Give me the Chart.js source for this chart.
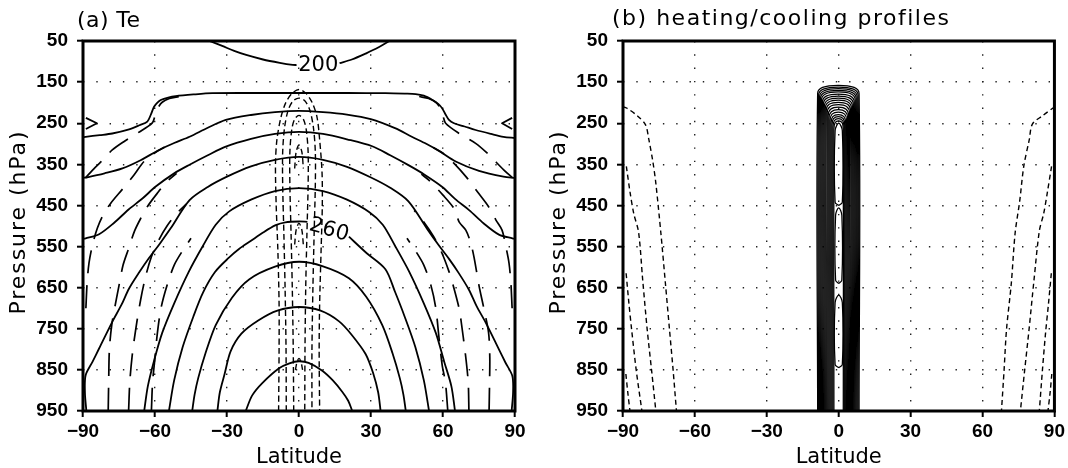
<!DOCTYPE html>
<html><head><meta charset="utf-8">
<script src="https://cdn.jsdelivr.net/npm/chart.js@4.4.1/dist/chart.umd.min.js"></script>
<style>
html,body{margin:0;padding:0;background:#fff;}
#wrap{position:relative;width:1068px;height:468px;background:#fff;}
canvas{position:absolute;top:0;}
</style></head>
<body><div id="wrap">
<canvas id="ca" width="534" height="468" style="left:0px"></canvas>
<canvas id="cb" width="534" height="468" style="left:534px"></canvas>
</div>
<script>
// ---------- axes ----------
const latTicks = [-90,-60,-30,0,30,60,90];
const latLabels = ['\u221290','\u221260','\u221230','0','30','60','90'];
const presTicks = [50,150,250,350,450,550,650,750,850,950];
const presLabels = ['50','150','250','350','450','550','650','750','850','950'];

// ---------- panel (a) Te : solid contours [lat, hPa] (null = label gap) ----------
const te200 = [[-37.3,50],[-32,62],[-27,74],[-22,84],[-15,95],[-8,103],[-2.6,108],[-1,108.5],null,[16.9,104],[22,95],[28,80],[33,66],[37.7,50]];
const te210 = [[-90,284],[-88.9,283],[-83,279],[-77.8,275],[-70.8,265],[-66.5,255],[-63.2,246],[-61.8,230],[-60.4,210],[-59,200],[-57.6,193.5],[-54.5,187.5],[-51.4,184],[-44,180],[-36.1,177],[-20,176.5],[0,176.5],[20,176.5],[36,177],[44,178],[48.6,179],[52,183],[55.6,193.5],[58,203],[59.7,214],[61,228],[62.5,242],[64.6,250],[69,258],[73.6,266.5],[80,276],[85.2,283],[90,286]];
const te220 = [[-90,383],[-88.2,381.5],[-81,372],[-73.6,360],[-66,340],[-58.3,315],[-52,298],[-45.6,283],[-38,261],[-30.5,242],[-20,230],[-10,223],[0,220],[10,223],[20,229],[29.9,240],[40,262],[47,283],[53,300],[58.5,318],[65.3,343],[75,366],[85.2,380],[90,383]];
const te230 = [[-90,531],[-88.9,530],[-83.3,520],[-77,492],[-71,460],[-65,432],[-59.7,404],[-52,372],[-45.6,351],[-38,328],[-30.5,307],[-20,288],[-10,276],[0,271],[10,276],[20,289],[30.5,306],[38,328],[45.6,352],[52,374],[59.7,405],[65,434],[71,462],[77,494],[83.3,521],[88.9,530],[90,531]];
const te240 = [[-88.6,950],[-89.2,905],[-88.9,863],[-86,830],[-83.3,798],[-77.8,733],[-74,692],[-70.8,652],[-66.5,612],[-62.5,578],[-58,543],[-53.4,505],[-45.6,437],[-38,405],[-30,380],[-20,355],[-10,339],[0,332],[10,339],[20,356],[30,382],[38,407],[45.6,440],[53.4,507],[58,545],[62.5,580],[66.5,614],[70.8,655],[74,695],[77.8,735],[83.3,800],[86,832],[88.9,865],[89.2,905],[88.6,950]];
const te250 = [[-64.5,950],[-63,890],[-60.5,830],[-57,760],[-52,688],[-46,612],[-40,548],[-34.7,497],[-29.2,465],[-20,436],[-10,415],[0,408],[10,415],[20,436],[29.2,466],[34.9,497],[40,548],[46,612],[52,688],[57,760],[60.5,830],[63.5,890],[65,950]];
const te260 = [[-54.2,950],[-52,875],[-48.5,795],[-44,720],[-40,662],[-35,612],[-29.2,577],[-25,556],[-20,536],[-15,516],[-9.7,498],[-5.7,491],[0,489],[3.5,490],null,[20.8,526],[28,565],[36,605],[40,660],[44,720],[48.5,795],[52,875],[54.2,950]];
const te270 = [[-44.5,950],[-43.5,910],[-42,870],[-39,810],[-34.7,741],[-28,675],[-20.8,630],[-10,599],[0,587],[10,598],[20.8,627],[28,672],[34.7,741],[39,810],[42,870],[43.5,910],[44.5,950]];
const te280 = [[-34,950],[-33,905],[-31,860],[-28.5,805],[-24,762],[-17,730],[-9,706],[0,697],[9,706],[16.7,732],[22,765],[27.8,812],[31,860],[33,905],[34,950]];
const te290 = [[-22.2,950],[-19.5,912],[-15.3,882],[-8.3,846],[-4,834],[0,829],[4,833],[9.7,852],[14,875],[18,903],[20.5,925],[22.2,950]];
const teEdgeW = [[-88.8,237],[-84.2,250],[-88.8,264]];
const teEdgeE = [[88.8,237],[84.6,250],[88.8,264]];

// short-dashed tongues near the equator
const teTongue1 = [[-8.5,950],[-8.3,800],[-8.3,690],[-8.8,560],[-9.5,450],[-9.8,350],[-9.2,290],[-7.5,235],[-5.5,200],[-3,178],[0,168],[3,178],[5.5,200],[7.5,235],[8.6,290],[9.6,370],[9.7,453],[9.2,560],[8.6,690],[8.4,800],[8.6,950]];
const teTongue2 = [[-5.3,950],[-5.4,800],[-5.8,650],[-6.3,520],[-6.8,400],[-6.8,320],[-6,260],[-4.5,218],[-2.5,196],[0,189],[2.5,196],[4.5,218],[6,260],[6.8,320],[6.8,400],[6.3,520],[5.8,650],[5.4,800],[5.4,950]];
const teTongue3 = [[-2.2,950],[-2.4,800],[-2.8,650],[-3.3,520],[-3.8,400],[-3.8,320],[-3,265],[-1.8,240],[0,231],[1.8,240],[3,265],[3.8,320],[3.8,400],[3.3,520],[2.8,650],[2.5,800],[2.4,950]];
const teCap1 = [[-1.8,360],[-1.2,320],[0,303],[1.2,320],[1.8,360]];
const teCap2 = [[-1.8,545],[-1.2,510],[0,493],[1.2,510],[1.8,545]];
const teCap3 = [[-1.5,850],[-0.8,830],[0,822],[0.8,830],[1.5,850]];

// long-dashed contours
const teLong1W = [[-89,383],[-85,358],[-81,335],[-77.8,315],[-73,295],[-67,273],[-61.2,250],[-60,232],[-58.8,213],[-57,199],[-54,190],[-50,185]];
const teLong1E = [[89,383],[85.4,364],[81,338],[78.5,323],[73.6,299],[67,276],[61.1,250],[60,232],[58.8,213],[57,199],[54,190],[50,185]];
const teLong2W = [[-88.8,700],[-88.3,640],[-87.5,590],[-86,545],[-84,505],[-81.5,472],[-78.5,445],[-73.5,410],[-68.75,376],[-64.6,343],[-60,322],[-56,308]];
const teLong2E = [[88.8,700],[88.3,640],[87.5,590],[86,545],[84.6,510],[82,485],[79,453],[74.5,418],[70,383],[65,350],[60,323],[56,309]];
const teLong3W = [[-79.5,950],[-79.3,880],[-79,800],[-78,740],[-76.5,690],[-75,645],[-73.3,595],[-71,555],[-68.5,512],[-66,482],[-63.2,453],[-59,420],[-55,392],[-51,372]];
const teLong3E = [[79.2,950],[79.4,880],[79.5,820],[79,760],[77,700],[75,645],[73,578],[71.5,540],[69.5,510],[66.7,490],[65,461],[60,425],[54,388],[51,374]];
const teLong4W = [[-71,950],[-70.5,880],[-69.5,815],[-68,750],[-66,680],[-64,625],[-61.5,575],[-58.5,535],[-55,500],[-51,470],[-47,447]];
const teLong4E = [[70.8,950],[70.5,880],[69.4,815],[67.4,725],[66.7,700],[64.5,650],[62.5,611],[59.5,565],[56,525],[52,490],[48,462]];
const teLong5W = [[-61.5,950],[-61,880],[-60,820],[-59,760],[-57.5,700],[-55,645],[-52,595],[-48.5,560],[-45,530]];
const teLong5E = [[62,950],[61,880],[59.7,840],[58.3,770],[57,700],[55,645],[52,595],[48.5,560],[45,530]];

// contour labels of panel (a)
const teLabelText = ['200','260'];
const teLabelLat = [8.0, 12.5];
const teLabelPres = [108.5, 510];

// ---------- panel (b) heating/cooling : dashed cooling contours ----------
const hcDash1W = [[-90,210],[-88.5,213],[-84,232],[-80.6,254],[-79.2,290],[-77.5,345],[-76.3,396],[-74.2,517],[-72.3,640],[-70.6,752],[-69.1,850],[-67.7,950]];
const hcDash2W = [[-88.6,355],[-87,420],[-85.5,470],[-83.5,515],[-81.8,630],[-79.9,752],[-78,855],[-76.3,950]];
const hcDash3W = [[-88.7,615],[-87.5,690],[-86.4,752],[-84.5,850],[-82.1,950]];
const hcDash4W = [[-88.8,860],[-88,905],[-87.1,950]];
const hcDash1E = [[90,210],[89.4,213],[85,232],[80.8,252],[79.5,290],[77.2,355],[75.5,440],[73.6,517],[72,640],[70,752],[69,850],[67.9,950]];
const hcDash2E = [[88.8,355],[87,420],[85.5,470],[83.7,512],[81.5,630],[79.4,752],[77.5,855],[75.8,950]];
const hcDash3E = [[88.7,615],[87.5,690],[86.3,760],[85,850],[83.7,950]];
const hcDash4E = [[88.9,860],[88.2,905],[87.3,950]];
// heating columns: left edge, right edge (deg lat), top (hPa)
const hcColLeft  = [-8.8,-8.4,-8.0,-7.6,-7.2,-6.8,-6.4,-6.0,-5.6,-5.2,-4.8,-4.4,-4.0,-3.6,-3.2,-2.8,-2.4,-2.0];
const hcColRight = [8.5,8.1,7.7,7.3,6.9,6.5,6.1,5.7,5.3,4.9,4.5,4.1,3.7,3.3,2.9,2.5,2.2,1.9];
const hcColTop   = [158,162,166,170,174,179,184,189,194,199,205,211,217,223,229,234,239,244];
// inner closed maxima
const hcPocketLeft   = [-1.5,-1.3,-1.5];
const hcPocketRight  = [1.5,1.3,1.5];
const hcPocketTop    = [250,456,668];
const hcPocketBottom = [450,640,845];

// ---------- drawing ----------
const STY = {
  solid:{w:1.8,d:[],t:0.3},
  edge:{w:1.8,d:[],t:0},
  short:{w:1.4,d:[6,3.5],t:0.3},
  long:{w:1.7,d:[23,12],t:0.3},
  bdash:{w:1.4,d:[5,3.5],t:0.3},
  col:{w:1.25,d:[],t:0.35}
};
function colShape(L,R,T){const w=R-L,m=(L+R)/2;return [[L,950],[L,T+20],[L+0.12*w,T+5],[m,T],[R-0.12*w,T+5],[R,T+20],[R,950]];}
function pocketShape(L,R,T,B){const m=(L+R)/2;return [[m,B],[L,B-8],[L,T+18],[m,T],[R,T+18],[R,B-8],[m,B]];}
function toXY(p){return p?{x:p[0],y:p[1]}:{x:null,y:null};}
function ds(pts,style){const s=STY[style];return {data:pts.map(toXY),showLine:true,pointRadius:0,pointHoverRadius:0,borderColor:'#000',backgroundColor:'#000',fill:false,spanGaps:false,borderWidth:s.w,borderDash:s.d,tension:s.t,borderCapStyle:'butt',borderJoinStyle:'round'};}

const setsA = [];
[te200,te210,te220,te230,te240,te250,te260,te270,te280,te290].forEach(a=>setsA.push(ds(a,'solid')));
[teEdgeW,teEdgeE].forEach(a=>setsA.push(ds(a,'edge')));
[teTongue1,teTongue2,teTongue3,teCap1,teCap2,teCap3].forEach(a=>setsA.push(ds(a,'short')));
[teLong1W,teLong1E,teLong2W,teLong2E,teLong3W,teLong3E,teLong4W,teLong4E,teLong5W,teLong5E].forEach(a=>setsA.push(ds(a,'long')));

const setsB = [];
[hcDash1W,hcDash2W,hcDash3W,hcDash4W,hcDash1E,hcDash2E,hcDash3E,hcDash4E].forEach(a=>setsB.push(ds(a,'bdash')));
hcColTop.forEach((T,i)=>setsB.push(ds(colShape(hcColLeft[i],hcColRight[i],T),'col')));
hcPocketTop.forEach((T,i)=>setsB.push(ds(pocketShape(hcPocketLeft[i],hcPocketRight[i],T,hcPocketBottom[i]),'col')));

const tickFont = {family:"'Liberation Sans', Arial, sans-serif", size:19, weight:'bold'};
const TXT = "'DejaVu Sans', sans-serif";

function spacedText(ctx,text,x,y,target,align){
  const w0 = ctx.measureText(text).width;
  const n = text.length;
  if ('letterSpacing' in ctx){
    const sp = (target-w0)/(n-1);
    ctx.letterSpacing = sp+'px';
    ctx.textAlign='left';
    const vis = w0 + sp*(n-1);
    ctx.fillText(text, align==='center'? x-vis/2 : x, y);
    ctx.letterSpacing='0px';
  } else {
    ctx.save(); ctx.translate(align==='center'? x-target/2 : x, y); ctx.scale(target/w0,1);
    ctx.textAlign='left'; ctx.fillText(text,0,0); ctx.restore();
  }
}

function makeChart(id, sets, cfg){
  const gridColor = (lo,hi)=> c => (c.tick && (c.tick.value===lo || c.tick.value===hi)) ? 'rgba(0,0,0,0)' : '#222';
  const plug = {
    id:'deco'+id,
    afterDatasetsDraw(chart){
      const ctx=chart.ctx,a=chart.chartArea;
      ctx.save(); ctx.strokeStyle='#000'; ctx.lineWidth=3; ctx.setLineDash([]);
      ctx.strokeRect(a.left,a.top,a.right-a.left,a.bottom-a.top); ctx.restore();
    },
    afterDraw(chart){
      const ctx=chart.ctx,a=chart.chartArea,xs=chart.scales.x,ys=chart.scales.y;
      ctx.save(); ctx.fillStyle='#000'; ctx.textBaseline='alphabetic';
      ctx.font='22px '+TXT;
      spacedText(ctx,cfg.title,cfg.titleX,cfg.titleY,cfg.titleW,'left');
      ctx.font='21px '+TXT;
      spacedText(ctx,'Latitude',(a.left+a.right)/2,463,86,'center');
      ctx.save(); ctx.translate(cfg.yTitleX,223); ctx.rotate(-Math.PI/2);
      ctx.font='22px '+TXT;
      spacedText(ctx,'Pressure (hPa)',0,0,183,'center');
      ctx.restore();
      (cfg.labels||[]).forEach(L=>{
        ctx.save();
        ctx.translate(xs.getPixelForValue(L.lat), ys.getPixelForValue(L.p));
        ctx.rotate(L.rot);
        ctx.font='21px '+TXT; ctx.textAlign='center'; ctx.textBaseline='middle';
        ctx.fillText(L.text,0,0);
        ctx.restore();
      });
      ctx.restore();
    }
  };
  return new Chart(document.getElementById(id),{
    type:'scatter',
    data:{datasets:sets},
    options:{
      responsive:false, animation:false, events:[],
      layout:{padding:{left:0,right:cfg.padR,top:41,bottom:0}},
      plugins:{legend:{display:false},tooltip:{enabled:false},title:{display:false}},
      scales:{
        x:{type:'linear',position:'bottom',min:-90,max:90,
          afterBuildTicks:s=>{s.ticks=latTicks.map(v=>({value:v}));},
          afterFit:s=>{s.height=57;},
          ticks:{autoSkip:false,maxRotation:0,minRotation:0,padding:3,color:'#000',font:tickFont,
                 callback:v=>latLabels[latTicks.indexOf(v)]},
          grid:{color:gridColor(-90,90),lineWidth:1.4,tickColor:'#000',tickLength:6,tickWidth:2,drawTicks:true},
          border:{display:false,dash:[1.4,11.9]}},
        y:{type:'linear',position:'left',min:50,max:950,reverse:true,
          afterBuildTicks:s=>{s.ticks=presTicks.map(v=>({value:v}));},
          afterFit:s=>{s.width=cfg.yw;},
          ticks:{autoSkip:false,padding:9,color:'#000',font:tickFont,
                 callback:v=>presLabels[presTicks.indexOf(v)]},
          grid:{color:gridColor(50,950),lineWidth:1.4,tickColor:'#000',tickLength:6,tickWidth:2,drawTicks:true},
          border:{display:false,dash:[1.4,11.9]}}
      }
    },
    plugins:[plug]
  });
}

const labelsA = teLabelText.map((t,i)=>({text:t,lat:teLabelLat[i],p:teLabelPres[i],rot:i===1?0.28:0}));
makeChart('ca', setsA, {yw:83, padR:19, title:'(a) Te', titleX:77, titleY:27, titleW:63, yTitleX:25, labels:labelsA});
makeChart('cb', setsB, {yw:89, padR:13, title:'(b) heating/cooling profiles', titleX:78, titleY:25, titleW:337, yTitleX:31, labels:[]});
</script>
</body></html>
